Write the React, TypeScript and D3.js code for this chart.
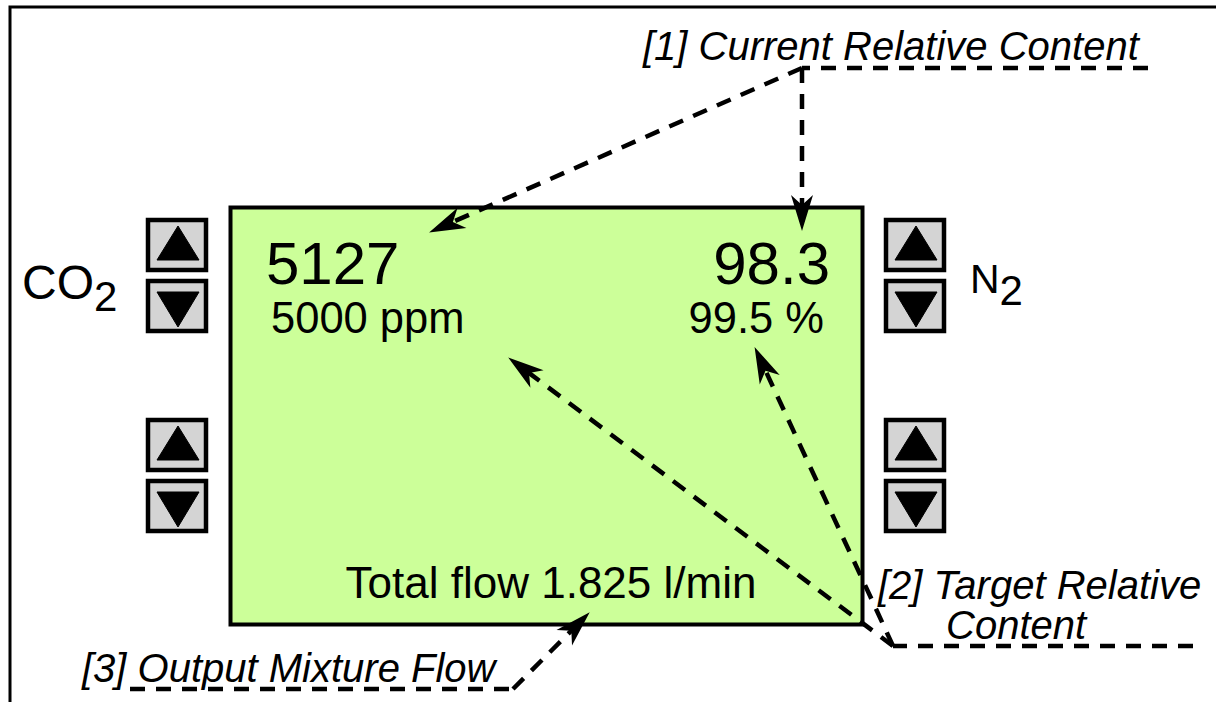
import React, { useEffect, useRef } from 'react';
import * as d3 from 'd3';

// Display contents
const gases = ['CO', 'N'];
const gasSubscripts = ['2', '2'];
const currentValues = ['5127', '98.3'];
const targetValues = ['5000 ppm', '99.5 %'];
const flowValue = 1.825;
const flowUnit = 'l/min';
const buttonGlyphs = ['up', 'down', 'up', 'down'];
const callout1 = ['[1] Current Relative Content'];
const callout2 = ['[2] Target Relative', 'Content'];
const callout3 = ['[3] Output Mixture Flow'];

const W = 1216;
const H = 702;
const FONT = '"Liberation Sans", Arial, Helvetica, sans-serif';

const App: React.FC = () => {
  const svgRef = useRef<SVGSVGElement>(null);

  useEffect(() => {
    if (!svgRef.current) return;
    const svg = d3.select(svgRef.current).html('');

    // arrowhead
    svg.append('defs').append('marker')
      .attr('id', 'barb')
      .attr('markerUnits', 'userSpaceOnUse')
      .attr('viewBox', '-38 -14 40 28')
      .attr('markerWidth', 40)
      .attr('markerHeight', 28)
      .attr('refX', 0)
      .attr('refY', 0)
      .attr('orient', 'auto')
      .append('path')
      .attr('d', 'M1,0 L-35,-11 L-25,0 L-35,11 Z')
      .attr('fill', '#000');

    // outer frame (cropped)
    svg.append('path')
      .attr('d', `M10,${H} V7 H${W}`)
      .attr('fill', 'none')
      .attr('stroke', '#000')
      .attr('stroke-width', 3);

    // LCD screen
    const screen = { x: 230.5, y: 207.5, w: 632, h: 417 };
    svg.append('rect')
      .attr('x', screen.x).attr('y', screen.y)
      .attr('width', screen.w).attr('height', screen.h)
      .attr('fill', '#ccff99')
      .attr('stroke', '#000')
      .attr('stroke-width', 4);

    // buttons: two pairs on each side
    const btnW = 58;
    const btnH = 50;
    const rowY = d3.scaleOrdinal<number, number>().domain([0, 1, 2, 3]).range([220, 281, 420, 481]);
    const colX = [148, 886];
    colX.forEach((bx) => {
      buttonGlyphs.forEach((g, i) => {
        const by = rowY(i);
        svg.append('rect')
          .attr('x', bx).attr('y', by)
          .attr('width', btnW).attr('height', btnH)
          .attr('fill', '#d4d4d4')
          .attr('stroke', '#000')
          .attr('stroke-width', 4.5);
        const cx = bx + btnW / 2 + 1;
        const tri = g === 'up'
          ? [[cx, by + 6], [cx + 21, by + 40], [cx - 21, by + 40]]
          : [[cx - 21, by + 11], [cx + 21, by + 11], [cx, by + 46]];
        svg.append('path')
          .attr('d', d3.line()(tri as [number, number][]) + 'Z')
          .attr('fill', '#000')
          .attr('stroke', '#000')
          .attr('stroke-width', 1)
          .attr('stroke-linejoin', 'round');
      });
    });

    // gas labels
    const gasPos = [{ x: 22, y: 299, size: 48 }, { x: 970, y: 293, size: 41 }];
    gases.forEach((g, i) => {
      const t = svg.append('text')
        .attr('x', gasPos[i].x).attr('y', gasPos[i].y)
        .style('font-family', FONT)
        .style('font-size', `${gasPos[i].size}px`)
        .attr('fill', '#000')
        .text(g);
      t.append('tspan')
        .attr('dy', 12)
        .style('font-size', '42px')
        .text(gasSubscripts[i]);
    });

    // readings
    const txt = (x: number, y: number, s: string, size: number, anchor = 'start') =>
      svg.append('text')
        .attr('x', x).attr('y', y)
        .attr('text-anchor', anchor)
        .style('font-family', FONT)
        .style('font-size', `${size}px`)
        .attr('fill', '#000')
        .text(s);

    txt(266, 284, currentValues[0], 60);
    txt(830, 284, currentValues[1], 60, 'end');
    txt(271, 333, targetValues[0], 43.5);
    txt(824, 333, targetValues[1], 43.5, 'end');
    txt(551, 598, `Total flow ${d3.format('.3f')(flowValue)} ${flowUnit}`, 44, 'middle');

    // callout labels
    const italic = (x: number, y: number, s: string) =>
      txt(x, y, s, 40).style('font-style', 'italic');
    italic(643, 60, callout1[0]);
    italic(878, 599, callout2[0]);
    italic(946, 639, callout2[1]);
    italic(82, 682, callout3[0]);

    // dashed leader lines
    const line = d3.line();
    const dash = '15 11';
    const sw = 4.5;
    const shorten = (pts: [number, number][], by: number) => {
      const n = pts.length;
      const [x0, y0] = pts[n - 2];
      const [x1, y1] = pts[n - 1];
      const len = Math.hypot(x1 - x0, y1 - y0);
      const out = pts.slice(0, n - 1);
      out.push([x1 - ((x1 - x0) / len) * by, y1 - ((y1 - y0) / len) * by]);
      return { body: out, tip: pts[n - 1], from: [x0, y0] };
    };
    const leader = (pts: [number, number][], arrow: boolean) => {
      if (!arrow) {
        svg.append('path').attr('d', line(pts)!)
          .attr('fill', 'none').attr('stroke', '#000')
          .attr('stroke-width', sw).attr('stroke-dasharray', dash);
        return;
      }
      const s = shorten(pts, 24);
      svg.append('path').attr('d', line(s.body)!)
        .attr('fill', 'none').attr('stroke', '#000')
        .attr('stroke-width', sw).attr('stroke-dasharray', dash);
      // arrow head placed along the last segment
      svg.append('path')
        .attr('d', line([s.from as [number, number], s.tip])!)
        .attr('fill', 'none').attr('stroke', 'none')
        .attr('marker-end', 'url(#barb)');
    };

    // [1]
    leader([[1148, 68], [802, 68]], false);
    leader([[802, 68], [802, 230]], true);
    leader([[802, 68], [430, 232]], true);
    // [2]
    leader([[1193, 646], [893, 646]], false);
    leader([[893, 646], [509, 358]], true);
    leader([[893, 646], [871, 598], [755, 348]], true);
    // [3]
    leader([[130, 689], [513, 689]], false);
    leader([[513, 689], [589, 613]], true);
  }, []);

  return (
    <svg
      ref={svgRef}
      width={W}
      height={H}
      style={{ position: 'absolute', left: 0, top: 0, background: '#fff' }}
    />
  );
};

export default App;
